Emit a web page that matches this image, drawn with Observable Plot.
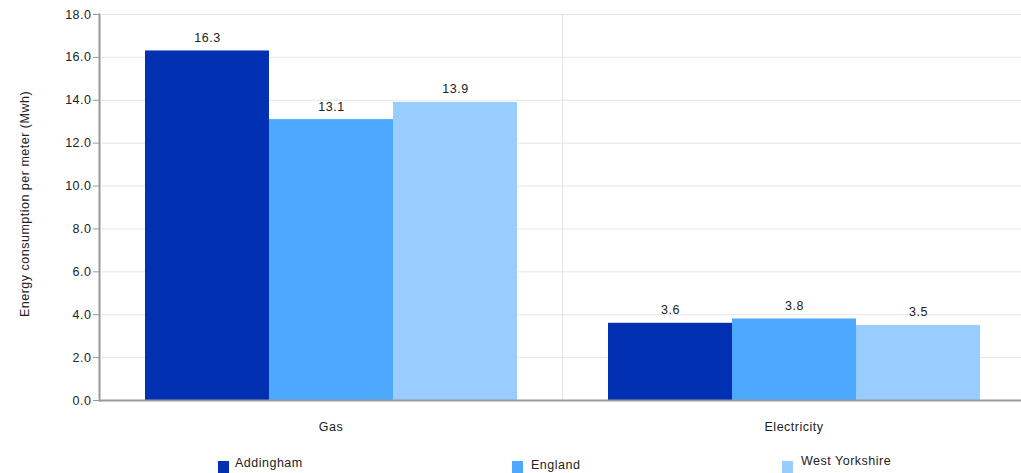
<!DOCTYPE html>
<html>
<head>
<meta charset="utf-8">
<script src="https://cdn.jsdelivr.net/npm/d3@7"></script>
<script src="https://cdn.jsdelivr.net/npm/@observablehq/plot@0.6"></script>
<style>
  html, body { margin: 0; padding: 0; background: #fff; }
  body { font-family: "Liberation Sans", Arial, sans-serif; }
  #wrap { position: relative; width: 1021px; height: 473px; overflow: hidden; }
  #legend { position: absolute; left: 0; top: 440px; width: 1021px; height: 33px; font-size: 12.5px; letter-spacing: 0.5px; color: #222; }
  #ylabel { position: absolute; left: 25px; top: 204px; transform: translate(-50%, -50%) rotate(-90deg); white-space: nowrap; font-size: 12.5px; letter-spacing: 0.5px; color: #222; }
  .sw { position: absolute; width: 11px; height: 12px; }
  .lab { position: absolute; white-space: nowrap; }
</style>
</head>
<body>
<div id="wrap"><div id="chart"></div><div id="ylabel"></div><div id="legend"></div></div>
<script>
const categories = ["Gas", "Electricity"];
const series = ["Addingham", "England", "West Yorkshire"];
const addingham = [16.3, 3.6];
const england = [13.1, 3.8];
const westYorkshire = [13.9, 3.5];
const colors = ["#0230b2", "#4da8ff", "#99ccff"];
const yTicks = [0, 2, 4, 6, 8, 10, 12, 14, 16, 18];
const yLabel = "Energy consumption per meter (Mwh)";

const seriesValues = [addingham, england, westYorkshire];
const data = [];
categories.forEach((c, ci) => {
  series.forEach((s, si) => {
    data.push({category: c, series: s, value: seriesValues[si][ci]});
  });
});

const font = "Liberation Sans, Arial, sans-serif";

const chart = Plot.plot({
  width: 1021,
  height: 440,
  marginLeft: 99,
  marginRight: -4,
  marginTop: 14,
  marginBottom: 40,
  style: {fontFamily: font, fontSize: "12.5px", letterSpacing: "0.5px", color: "#222", background: "#fff"},
  fx: {domain: categories, padding: 0, label: null},
  x: {domain: series, paddingInner: 0, paddingOuter: 0.366, axis: null},
  y: {domain: [0, 18], axis: null},
  color: {domain: series, range: colors},
  marks: [
    Plot.gridY(yTicks, {stroke: "#e6e6e6", strokeOpacity: 1}),
    Plot.frame({anchor: "left", fx: () => "Electricity", stroke: "#e3e3e3", strokeOpacity: 1}),
    Plot.barY(data, {fx: "category", x: "series", y: "value", fill: "series"}),
    Plot.text(data, {fx: "category", x: "series", y: "value", text: d => d.value.toFixed(1), dy: -13, fill: "#222", fontSize: 12.5}),
    Plot.ruleY([0], {stroke: "#999", strokeWidth: 2}),
    Plot.frame({anchor: "left", fx: () => "Gas", stroke: "#999", strokeOpacity: 1, strokeWidth: 2}),
    Plot.axisY({ticks: yTicks, tickFormat: d3.format(".1f"), tickSize: 6, tickPadding: 2, stroke: "#999", fontSize: 12.5, label: null, facetAnchor: "left"}),
    Plot.axisFx({anchor: "bottom", tickSize: 0, tickPadding: 22, fontSize: 12.5, label: null})
  ]
});
document.getElementById("chart").appendChild(chart);
document.getElementById("ylabel").textContent = yLabel;

const legend = document.getElementById("legend");
const legendPos = [
  {sx: 218, sy: 21, tx: 235, ty: 16},
  {sx: 512, sy: 21, tx: 531, ty: 18},
  {sx: 782, sy: 21, tx: 801, ty: 14}
];
series.forEach((s, i) => {
  const p = legendPos[i];
  const sw = document.createElement("div");
  sw.className = "sw";
  sw.style.left = p.sx + "px";
  sw.style.top = p.sy + "px";
  sw.style.background = colors[i];
  legend.appendChild(sw);
  const lab = document.createElement("div");
  lab.className = "lab";
  lab.style.left = p.tx + "px";
  lab.style.top = p.ty + "px";
  lab.textContent = s;
  legend.appendChild(lab);
});
</script>
</body>
</html>
